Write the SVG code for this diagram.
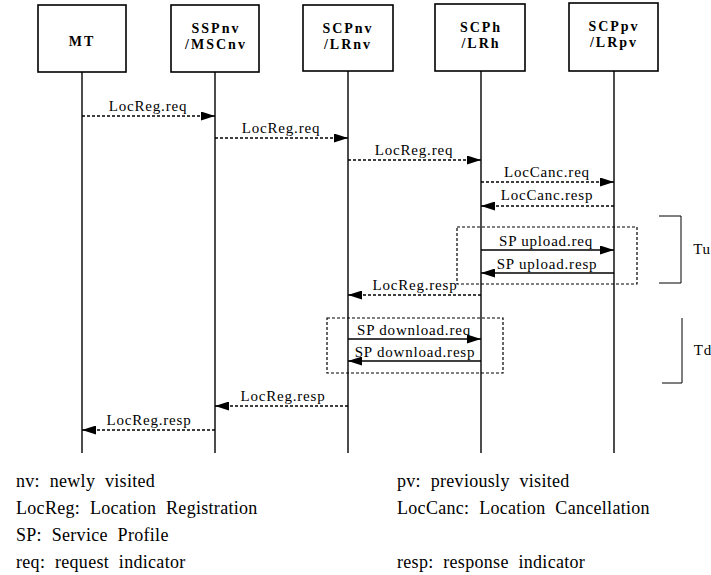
<svg xmlns="http://www.w3.org/2000/svg" width="711" height="575" viewBox="0 0 711 575">
<defs>
<marker id="ah" viewBox="0 0 14 9" refX="14" refY="4.5" markerWidth="14" markerHeight="9" markerUnits="userSpaceOnUse" orient="auto">
<path d="M0,0 L14,4.5 L0,9 z" fill="#000"/>
</marker>
<style>
.box{fill:#fff;stroke:#000;stroke-width:1.6}
.life{stroke:#000;stroke-width:1.4;fill:none}
.nl{font-family:"Liberation Serif","DejaVu Serif",serif;font-size:14px;font-weight:bold;letter-spacing:2px;text-anchor:middle;fill:#000}
.dm{stroke:#000;stroke-width:1.4;stroke-dasharray:3 2;fill:none}
.sm{stroke:#000;stroke-width:1.6;fill:none}
.ml{font-family:"Liberation Serif","DejaVu Serif",serif;font-size:15px;letter-spacing:0.8px;text-anchor:middle;fill:#000}
.frame{stroke:#000;stroke-width:1.2;stroke-dasharray:3 2;fill:none}
.br{stroke:#000;stroke-width:1;fill:none}
.lg{font-family:"Liberation Serif","DejaVu Serif",serif;font-size:18px;letter-spacing:0.3px;word-spacing:5px;fill:#000}
</style>
</defs>
<g id="MT">
<rect class="box" x="38" y="5" width="88" height="67"/>
<text class="nl" x="82" y="46">MT</text>
<line class="life" x1="82" y1="72" x2="82" y2="453"/>
</g>
<g id="SSPnv">
<rect class="box" x="171" y="5" width="88" height="67"/>
<text class="nl" x="216" y="33">SSPnv</text>
<text class="nl" x="216" y="49">/MSCnv</text>
<line class="life" x1="215" y1="72" x2="215" y2="453"/>
</g>
<g id="SCPnv">
<rect class="box" x="303" y="5" width="90" height="66"/>
<text class="nl" x="348" y="33">SCPnv</text>
<text class="nl" x="348" y="49">/LRnv</text>
<line class="life" x1="348" y1="71" x2="348" y2="453"/>
</g>
<g id="SCPh">
<rect class="box" x="435" y="4" width="90" height="67"/>
<text class="nl" x="481" y="32">SCPh</text>
<text class="nl" x="481" y="48">/LRh</text>
<line class="life" x1="481" y1="71" x2="481" y2="453"/>
</g>
<g id="SCPpv">
<rect class="box" x="569" y="3" width="89" height="68"/>
<text class="nl" x="614" y="31">SCPpv</text>
<text class="nl" x="614" y="47">/LRpv</text>
<line class="life" x1="614" y1="71" x2="614" y2="453"/>
</g>
<g id="frames">
<rect class="frame" x="457" y="227" width="180" height="57"/>
<rect class="frame" x="327" y="318" width="176" height="55"/>
<polyline class="br" points="659,216 681,216 681,283 659,283"/>
<text class="ml" x="702" y="254">Tu</text>
<polyline class="br" points="682,318 682,383 662,383"/>
<text class="ml" x="703" y="355">Td</text>
</g>
<g id="connectors">
<line class="dm" x1="82" y1="116" x2="215" y2="116" marker-end="url(#ah)"/>
<text class="ml" x="148" y="111">LocReg.req</text>
<line class="dm" x1="215" y1="138" x2="348" y2="138" marker-end="url(#ah)"/>
<text class="ml" x="281" y="133">LocReg.req</text>
<line class="dm" x1="348" y1="160" x2="481" y2="160" marker-end="url(#ah)"/>
<text class="ml" x="414" y="155">LocReg.req</text>
<line class="dm" x1="481" y1="182" x2="614" y2="182" marker-end="url(#ah)"/>
<text class="ml" x="547" y="177">LocCanc.req</text>
<line class="dm" x1="614" y1="206" x2="481" y2="206" marker-end="url(#ah)"/>
<text class="ml" x="547" y="200">LocCanc.resp</text>
<line class="sm" x1="481" y1="250" x2="614" y2="250" marker-end="url(#ah)"/>
<text class="ml" x="546" y="246">SP upload.req</text>
<line class="sm" x1="614" y1="273" x2="481" y2="273" marker-end="url(#ah)"/>
<text class="ml" x="547" y="269">SP upload.resp</text>
<line class="dm" x1="481" y1="295" x2="348" y2="295" marker-end="url(#ah)"/>
<text class="ml" x="415" y="290">LocReg.resp</text>
<line class="sm" x1="348" y1="339" x2="481" y2="339" marker-end="url(#ah)"/>
<text class="ml" x="414" y="335">SP download.req</text>
<line class="sm" x1="481" y1="361" x2="348" y2="361" marker-end="url(#ah)"/>
<text class="ml" x="415" y="357">SP download.resp</text>
<line class="dm" x1="348" y1="406" x2="215" y2="406" marker-end="url(#ah)"/>
<text class="ml" x="283" y="401">LocReg.resp</text>
<line class="dm" x1="215" y1="430" x2="82" y2="430" marker-end="url(#ah)"/>
<text class="ml" x="149" y="425">LocReg.resp</text>
</g>
<g id="legend">
<text class="lg" x="16" y="487">nv: newly visited</text>
<text class="lg" x="16" y="514">LocReg: Location Registration</text>
<text class="lg" x="16" y="541">SP: Service Profile</text>
<text class="lg" x="16" y="568">req: request indicator</text>
<text class="lg" x="397" y="487">pv: previously visited</text>
<text class="lg" x="397" y="514">LocCanc: Location Cancellation</text>
<text class="lg" x="397" y="568">resp: response indicator</text>
</g>
</svg>
